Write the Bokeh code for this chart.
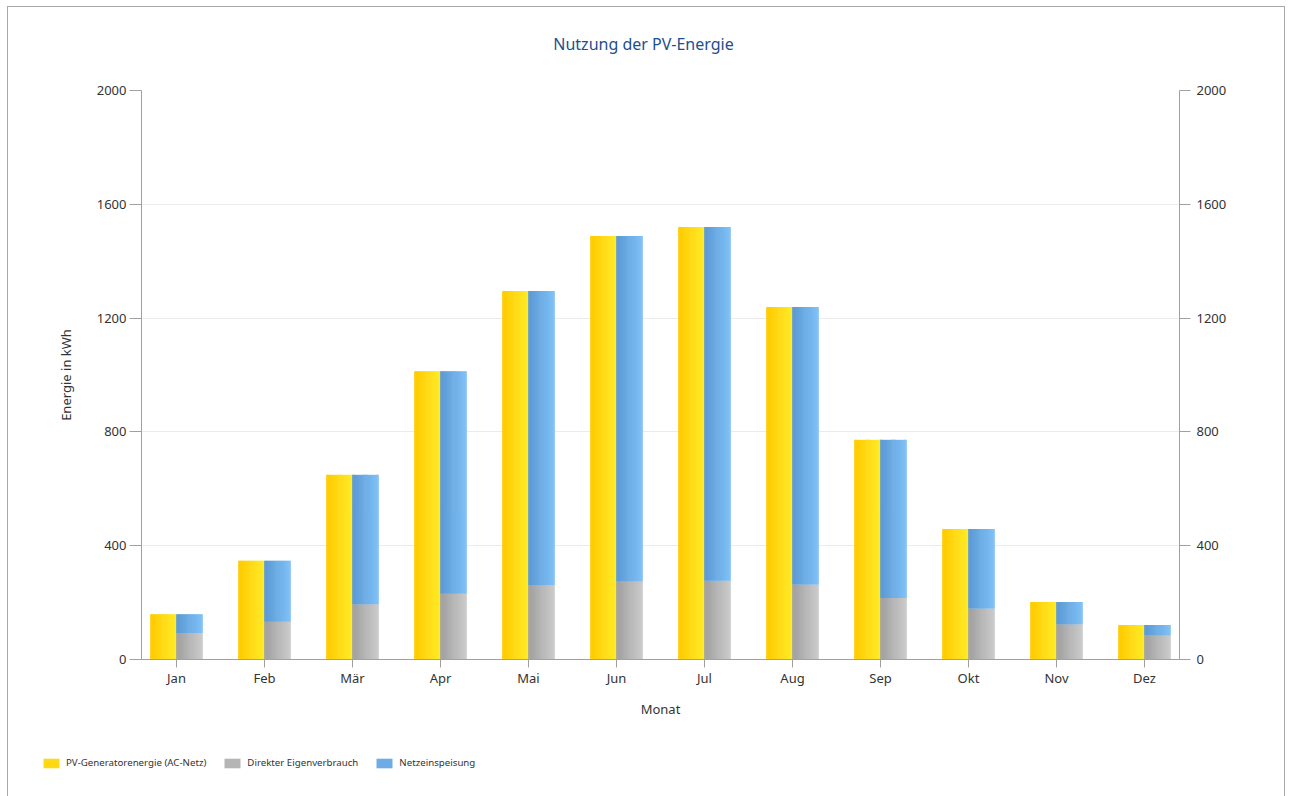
from bokeh.plotting import figure
from bokeh.layouts import column
from bokeh.models import (Range1d, LinearAxis, FixedTicker, ColumnDataSource,
                          Legend, LegendItem, Label)
from bokeh.embed import file_html
from bokeh.resources import INLINE

# Monthly energy values (kWh)
months = ["Jan", "Feb", "Mär", "Apr", "Mai", "Jun", "Jul", "Aug", "Sep", "Okt", "Nov", "Dez"]
pv_generator = [159, 347, 649, 1013, 1295, 1489, 1520, 1239, 772, 459, 202, 121]
eigenverbrauch = [93, 133, 194, 231, 261, 274, 277, 264, 216, 179, 124, 84]
netzeinspeisung = [66, 214, 455, 782, 1034, 1215, 1243, 975, 556, 280, 78, 37]
y_ticks = [0, 400, 800, 1200, 1600, 2000]
series_names = ["PV-Generatorenergie (AC-Netz)", "Direkter Eigenverbrauch", "Netzeinspeisung"]
title_text = "Nutzung der PV-Energie"

FONT = "Noto Sans"
TEXT = "#333333"
AXIS = "#a0a0a0"

# horizontal colour ramps (left -> right) for each series
RAMP_YELLOW = ((255, 202, 0), (255, 234, 40))
RAMP_GRAY = ((160, 160, 160), (202, 202, 202))
RAMP_BLUE = ((90, 153, 212), (128, 192, 246))

BAR_W = 0.2955   # width of one bar in month units
N_STRIPS = 24
W = 1276
TITLE_H = 73
LEGEND_H = 60
CHART_H = 790 - TITLE_H - LEGEND_H


def ramp(c0, c1, t):
    return "#%02x%02x%02x" % tuple(int(round(a + (b - a) * t)) for a, b in zip(c0, c1))


def gradient_bars(p, xs, bottoms, tops, offset, colors):
    """Draw bars as thin vertical strips so they carry a left-to-right gradient."""
    data = dict(x=[], bottom=[], top=[], color=[])
    sw = BAR_W / N_STRIPS
    for x, b, t in zip(xs, bottoms, tops):
        for k in range(N_STRIPS):
            data["x"].append(x + offset - BAR_W / 2 + (k + 0.5) * sw)
            data["bottom"].append(b)
            data["top"].append(t)
            data["color"].append(ramp(colors[0], colors[1], k / (N_STRIPS - 1)))
    src = ColumnDataSource(data)
    return p.vbar(x="x", bottom="bottom", top="top", width=sw * 1.6, source=src,
                  fill_color="color", line_color=None)


def strip(height):
    """A bare full-width canvas (no axes) used for the heading and the legend."""
    f = figure(width=W, height=height, output_backend="svg", toolbar_location=None,
               x_range=Range1d(0, W), y_range=Range1d(0, height),
               x_axis_location=None, y_axis_location=None,
               min_border=0, min_border_left=0, min_border_right=0,
               min_border_top=0, min_border_bottom=0)
    f.frame_align = False
    f.grid.visible = False
    f.outline_line_color = None
    f.border_fill_color = "white"
    f.background_fill_color = "white"
    return f


# ---- title strip ----
head = strip(TITLE_H)
head.add_layout(Label(x=635, y=TITLE_H - 36, text=title_text, text_align="center",
                      text_baseline="middle", text_font=FONT, text_font_size="16px",
                      text_color="#1d4f91"))

# ---- chart ----
xs = list(range(1, len(months) + 1))
pad = 35 / 88

p = figure(width=W, height=CHART_H, output_backend="svg", toolbar_location=None,
           x_range=Range1d(1 - pad, len(months) + pad), y_range=Range1d(0, 2000),
           min_border_left=133, min_border_right=105, min_border_top=10,
           min_border_bottom=78)
p.frame_align = False
p.outline_line_color = None
p.background_fill_color = "white"
p.border_fill_color = "white"

zeros = [0] * len(months)
top_blue = [e + n for e, n in zip(eigenverbrauch, netzeinspeisung)]
gradient_bars(p, xs, zeros, pv_generator, -BAR_W / 2, RAMP_YELLOW)
gradient_bars(p, xs, zeros, eigenverbrauch, BAR_W / 2, RAMP_GRAY)
gradient_bars(p, xs, eigenverbrauch, top_blue, BAR_W / 2, RAMP_BLUE)

p.xaxis.ticker = FixedTicker(ticks=xs)
p.xaxis.major_label_overrides = {x: m for x, m in zip(xs, months)}
p.xaxis.axis_label = "Monat"
p.yaxis.ticker = FixedTicker(ticks=y_ticks)
p.yaxis.axis_label = "Energie in kWh"

right = LinearAxis(ticker=FixedTicker(ticks=y_ticks))
p.add_layout(right, "right")

for ax in p.axis:
    ax.axis_line_color = AXIS
    ax.major_tick_line_color = AXIS
    ax.minor_tick_line_color = None
    ax.major_tick_in = 0
    ax.major_label_text_font = FONT
    ax.major_label_text_font_size = "13px"
    ax.major_label_text_color = TEXT
    ax.axis_label_text_font = FONT
    ax.axis_label_text_font_size = "13px"
    ax.axis_label_text_font_style = "normal"
    ax.axis_label_text_color = TEXT

p.xaxis.major_tick_out = 8
p.xaxis.major_label_standoff = 1
p.xaxis.axis_label_standoff = 10
p.yaxis.major_tick_out = 12
p.yaxis.major_label_standoff = 3
p.yaxis.axis_label_standoff = 19
right.major_tick_out = 11
right.major_label_standoff = 6

p.xgrid.grid_line_color = None
p.ygrid.ticker = FixedTicker(ticks=y_ticks)
p.ygrid.grid_line_color = "#ebebeb"

# ---- legend strip ----
lg = strip(LEGEND_H)
swatch_colors = [ramp(*RAMP_YELLOW, 0.5), ramp(*RAMP_GRAY, 0.5), ramp(*RAMP_BLUE, 0.5)]
items = []
for name, col in zip(series_names, swatch_colors):
    src = ColumnDataSource(dict(x=[0], bottom=[0], top=[0]))
    r = lg.vbar(x="x", bottom="bottom", top="top", width=1, source=src,
                fill_color=col, line_color=None)
    items.append(LegendItem(label=name, renderers=[r]))

legend = Legend(items=items, orientation="horizontal", location=(33, 28),
                padding=0, margin=0, spacing=16, label_standoff=5,
                glyph_width=20, glyph_height=12, label_height=12,
                label_text_font=FONT, label_text_font_size="9.7px",
                label_text_color=TEXT, border_line_color=None,
                background_fill_alpha=0)
lg.add_layout(legend, "center")

page = column(head, p, lg, spacing=0,
              styles={"margin-left": "7px", "margin-top": "6px",
                      "border": "1px solid #a8a8a8"})

open("out.html", "w").write(file_html(page, INLINE))
